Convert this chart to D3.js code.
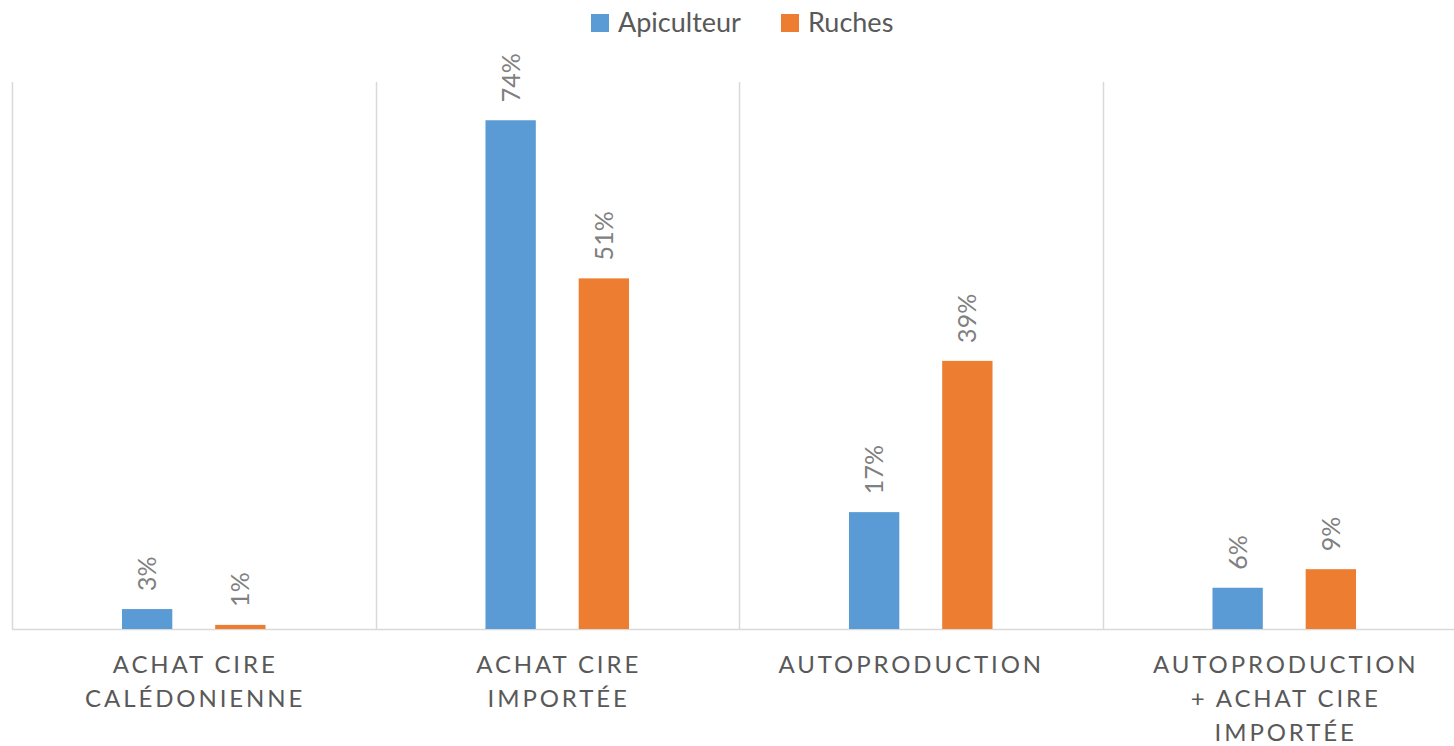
<!DOCTYPE html>
<html>
<head>
<meta charset="utf-8">
<script src="https://cdn.jsdelivr.net/npm/d3@7"></script>
<style>
  body { margin: 0; background: #fff; }
  svg text { font-family: Lato, "Open Sans", sans-serif; }
</style>
</head>
<body>
<div id="vis"></div>
<script>
// data (bar heights; labels show rounded %)
var categories = [
    ["ACHAT CIRE", "CALÉDONIENNE"],
    ["ACHAT CIRE", "IMPORTÉE"],
    ["AUTOPRODUCTION"],
    ["AUTOPRODUCTION", "+ ACHAT CIRE", "IMPORTÉE"]
];
var series = ["Apiculteur", "Ruches"];
var apiculteur = [2.9, 74, 17, 6];
var ruches = [0.6, 51, 39, 8.7];
var colors = ["#5B9BD5", "#ED7D31"];

var width = 1454, height = 746;
var margin = {top: 79, left: 12, bottom: 117};

var svg = d3.select("#vis").append("svg")
    .attr("width", width)
    .attr("height", height);

var keys = categories.map(function (d, i) { return i; });

var x0 = d3.scaleBand()
    .domain(keys)
    .range([margin.left, margin.left + 4 * 363.5]);

var x1 = d3.scaleBand()
    .domain(series)
    .range([0, x0.bandwidth()])
    .paddingInner(0.46)
    .paddingOuter(1.18);

var y = d3.scaleLinear()
    .domain([0, 80])
    .range([height - margin.bottom, margin.top]);

var baseY = y(0);

// vertical separators
svg.append("g").selectAll("line")
    .data(keys)
    .enter().append("line")
    .attr("x1", function (d) { return Math.round(x0(d)) + 0.5; })
    .attr("x2", function (d) { return Math.round(x0(d)) + 0.5; })
    .attr("y1", 82)
    .attr("y2", baseY)
    .attr("stroke", "#d9d9d9")
    .attr("stroke-width", 1.5);

// baseline
svg.append("line")
    .attr("x1", margin.left)
    .attr("x2", width)
    .attr("y1", baseY + 0.5)
    .attr("y2", baseY + 0.5)
    .attr("stroke", "#d9d9d9")
    .attr("stroke-width", 1.5);

var rows = [];
keys.forEach(function (k) {
    rows.push({cat: k, s: series[0], v: apiculteur[k], c: colors[0]});
    rows.push({cat: k, s: series[1], v: ruches[k], c: colors[1]});
});

svg.append("g").selectAll("rect")
    .data(rows)
    .enter().append("rect")
    .attr("x", function (d) { return x0(d.cat) + x1(d.s); })
    .attr("y", function (d) { return y(d.v); })
    .attr("width", x1.bandwidth())
    .attr("height", function (d) { return baseY - y(d.v); })
    .attr("fill", function (d) { return d.c; });

// rotated value labels
svg.append("g").selectAll("text")
    .data(rows)
    .enter().append("text")
    .attr("transform", function (d) {
        var cx = x0(d.cat) + x1(d.s) + x1.bandwidth() / 2;
        return "translate(" + (cx + 9) + "," + (y(d.v) - 18) + ") rotate(-90)";
    })
    .attr("fill", "#808080")
    .style("font-size", "25px")
    .text(function (d) { return Math.round(d.v) + "%"; });

// category labels
var ls = 2.9;
var labelShift = [0, 0, -11, 0];
var cat = svg.append("g").selectAll("text")
    .data(keys)
    .enter().append("text")
    .attr("text-anchor", "middle")
    .attr("fill", "#595959")
    .style("font-size", "24px")
    .style("letter-spacing", ls + "px");

cat.selectAll("tspan")
    .data(function (d) { return categories[d].map(function (t) { return {t: t, k: d}; }); })
    .enter().append("tspan")
    .attr("x", function (d) { return x0(d.k) + x0.bandwidth() / 2 + ls / 2 + labelShift[d.k]; })
    .attr("y", function (d, i) { return 673 + i * 34; })
    .text(function (d) { return d.t; });

// legend
var legend = svg.append("g");
var legX = [591, 781];
series.forEach(function (s, i) {
    legend.append("rect")
        .attr("x", legX[i])
        .attr("y", 14)
        .attr("width", 18)
        .attr("height", 18)
        .attr("fill", colors[i]);
    legend.append("text")
        .attr("x", legX[i] + 27)
        .attr("y", 32)
        .attr("fill", "#595959")
        .style("font-size", "27px")
        .text(s);
});
</script>
</body>
</html>
